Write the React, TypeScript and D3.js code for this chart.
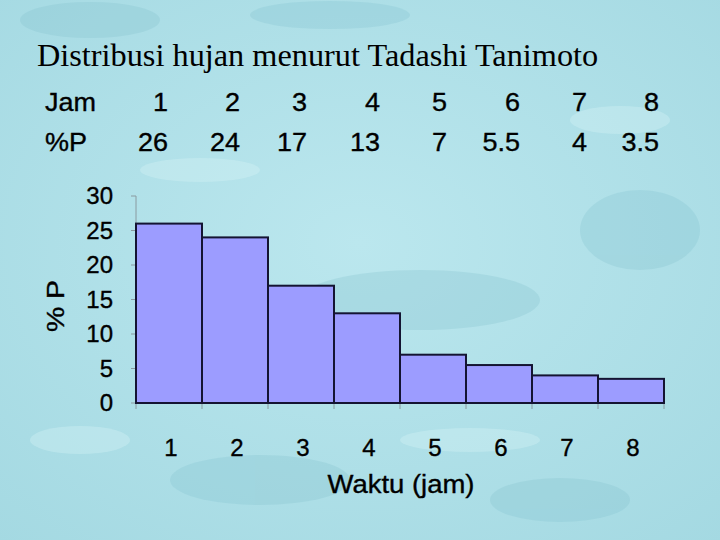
import React from "react";
import * as d3 from "d3";

const hours = ["1", "2", "3", "4", "5", "6", "7", "8"];
const percentP = [26, 24, 17, 13, 7, 5.5, 4, 3.5];
const percentLabels = ["26", "24", "17", "13", "7", "5.5", "4", "3.5"];
const yTicks = [0, 5, 10, 15, 20, 25, 30];

const W = 720;
const H = 540;

export default function App() {
  const x = d3.scaleBand<string>().domain(hours).range([136, 664]).padding(0);
  const y = d3.scaleLinear().domain([0, 30]).range([403, 196]);
  const tableRight = [168, 240, 307, 380, 447, 520, 587, 659];
  const sans = "Arial, 'Liberation Sans', sans-serif";
  const tableFont = 25;
  const stretch = 1.08;
  const heavy = { stroke: "#000", strokeWidth: 0.35 };

  return (
    <svg width={W} height={H} style={{ position: "absolute", left: 0, top: 0 }}>
      <defs>
        <radialGradient id="bg" cx="50%" cy="45%" r="75%">
          <stop offset="0%" stopColor="#bbe7ee" />
          <stop offset="100%" stopColor="#a4d9e2" />
        </radialGradient>
      </defs>
      <rect x={0} y={0} width={W} height={H} fill="url(#bg)" />
      <g opacity={0.3} fill="#86c3cf">
        <ellipse cx={90} cy={20} rx={70} ry={18} />
        <ellipse cx={420} cy={300} rx={120} ry={30} />
        <ellipse cx={640} cy={230} rx={60} ry={40} />
        <ellipse cx={260} cy={480} rx={90} ry={25} />
        <ellipse cx={560} cy={500} rx={70} ry={22} />
        <ellipse cx={330} cy={15} rx={80} ry={14} />
      </g>
      <g opacity={0.35} fill="#d6f4f7">
        <ellipse cx={200} cy={170} rx={60} ry={12} />
        <ellipse cx={620} cy={120} rx={50} ry={14} />
        <ellipse cx={80} cy={440} rx={50} ry={14} />
        <ellipse cx={470} cy={440} rx={70} ry={12} />
      </g>

      <text x={37} y={66} fontFamily="'Times New Roman', 'Liberation Serif', serif" fontSize={32.3} fill="#000">
        Distribusi hujan menurut Tadashi Tanimoto
      </text>

      <text transform={`translate(45,111) scale(${stretch},1)`} fontFamily={sans} fontSize={tableFont} fill="#000" {...heavy}>Jam</text>
      <text transform={`translate(45,151) scale(${stretch},1)`} fontFamily={sans} fontSize={tableFont} fill="#000" {...heavy}>%P</text>
      {hours.map((h, i) => (
        <text
          key={"h" + h}
          transform={`translate(${tableRight[i]},111) scale(${stretch},1)`}
          textAnchor="end"
          fontFamily={sans}
          fontSize={tableFont}
          fill="#000"
          {...heavy}
        >
          {h}
        </text>
      ))}
      {percentLabels.map((p, i) => (
        <text
          key={"p" + i}
          transform={`translate(${tableRight[i]},151) scale(${stretch},1)`}
          textAnchor="end"
          fontFamily={sans}
          fontSize={tableFont}
          fill="#000"
          {...heavy}
        >
          {p}
        </text>
      ))}

      {/* y axis */}
      <line x1={136} x2={136} y1={y(30)} y2={y(0)} stroke="#8a9aa0" strokeWidth={1} />
      {yTicks.map((t) => (
        <g key={"yt" + t}>
          <line x1={131} x2={136} y1={y(t)} y2={y(t)} stroke="#8a9aa0" strokeWidth={1} />
          <text x={113} y={y(t) + 8} textAnchor="end" fontFamily={sans} fontSize={24} fill="#000" {...heavy}>
            {t}
          </text>
        </g>
      ))}

      {/* x tick marks */}
      {hours.map((h) => (
        <line key={"xt" + h} x1={x(h)!} x2={x(h)!} y1={y(0)} y2={y(0) + 6} stroke="#8a9aa0" strokeWidth={1} />
      ))}
      <line x1={664} x2={664} y1={y(0)} y2={y(0) + 6} stroke="#8a9aa0" strokeWidth={1} />

      {/* bars */}
      {hours.map((h, i) => (
        <rect
          key={"b" + h}
          x={x(h)!}
          y={y(percentP[i])}
          width={x.bandwidth()}
          height={y(0) - y(percentP[i])}
          fill="#9c9cff"
          stroke="#141432"
          strokeWidth={2}
        />
      ))}

      {hours.map((h) => (
        <text key={"xl" + h} x={x(h)! + x.bandwidth() / 2 + 2} y={456} textAnchor="middle" fontFamily={sans} fontSize={24} fill="#000" {...heavy}>
          {h}
        </text>
      ))}

      <text
        x={401}
        y={493}
        textAnchor="middle"
        fontFamily={sans}
        fontSize={25}
        textLength={147}
        lengthAdjust="spacingAndGlyphs"
        fill="#000"
        {...heavy}
      >
        Waktu (jam)
      </text>
      <text
        transform="translate(64,306) rotate(-90)"
        textAnchor="middle"
        fontFamily={sans}
        fontSize={24}
        textLength={52}
        lengthAdjust="spacingAndGlyphs"
        fill="#000"
        {...heavy}
      >
        % P
      </text>
    </svg>
  );
}
